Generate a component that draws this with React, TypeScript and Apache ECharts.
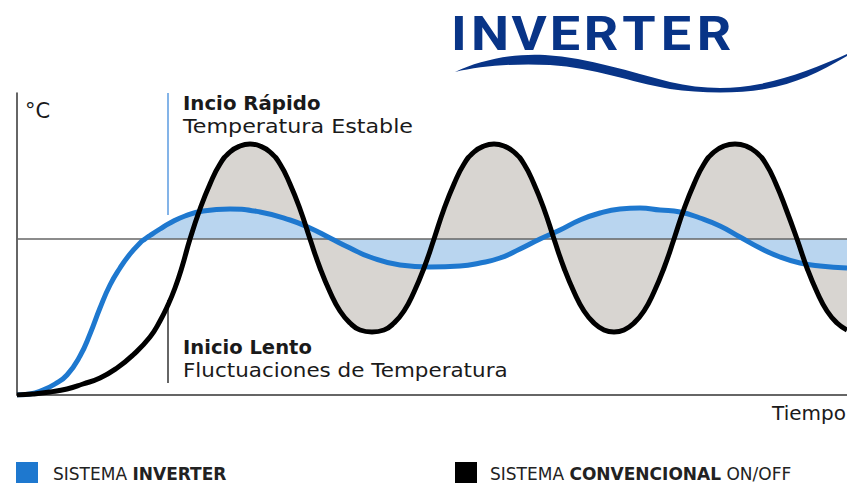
import React, { useEffect, useRef } from 'react';
import * as echarts from 'echarts';

// Tiempo (unidades arbitrarias) y temperatura (unidades arbitrarias)
const tiempoConvencional = [0, 16, 33, 50, 66, 83, 100, 116, 133, 143, 151, 158, 165, 173, 183, 193, 203, 213, 223, 233, 243, 253, 263, 273, 283, 293, 303, 313, 323, 333, 343, 355, 367, 377, 387, 397, 407, 417, 427, 437, 447, 457, 467, 477, 487, 497, 507, 517, 527, 537, 547, 557, 567, 577, 587, 597, 607, 617, 627, 637, 647, 657, 667, 677, 687, 697, 707, 718, 729, 739, 749, 759, 769, 780, 790, 800, 810, 820, 830];
const tempConvencional = [0, 1, 3, 6, 11, 17, 27, 40, 58, 74, 90, 107, 128, 156, 186, 211, 231, 243, 249, 251, 249, 243, 231, 211, 186, 156, 127, 103, 84, 72, 65, 63, 65, 72, 84, 103, 127, 156, 186, 211, 231, 243, 249, 251, 249, 243, 231, 211, 186, 156, 127, 103, 84, 72, 65, 63, 65, 72, 84, 103, 127, 156, 186, 211, 231, 243, 249, 251, 249, 243, 231, 211, 186, 156, 127, 103, 84, 72, 65];

const tiempoInverter = [0, 13, 26, 38, 50, 63, 73, 83, 93, 103, 113, 123, 128, 133, 143, 153, 168, 186, 213, 243, 273, 293, 313, 333, 353, 383, 413, 443, 463, 483, 503, 523, 543, 563, 583, 603, 623, 643, 663, 683, 703, 723, 743, 763, 783, 803, 830];
const tempInverter = [0, 1, 5, 11, 20, 39, 61, 87, 110, 127, 141, 152, 156, 159.5, 166, 172, 179, 184, 186, 183, 175, 167, 157, 147, 138, 130, 128, 129, 132, 137, 146, 156, 165, 175, 182, 186, 187, 185, 183, 177, 169, 158, 147, 138, 132, 129, 127];

const temperaturaConsigna = 156;
const tiempoMax = 830;
const tempMax = 302;

// Marcas de anotación (tiempo de inicio, extremos de las líneas guía)
const tiempoMarca = 151;
const guiaRapidoDesde = 302;
const guiaRapidoHasta = 180;
const guiaLentoDesde = 95;
const guiaLentoHasta = 12;

const logoLetras = ['I', 'N', 'V', 'E', 'R', 'T', 'E', 'R'];
const logoCentros = [459, 490, 529, 565, 601, 639, 676, 714];

const textoRapido = ['Incio Rápido', 'Temperatura Estable'];
const textoLento = ['Inicio Lento', 'Fluctuaciones de Temperatura'];
const unidadY = '°C';
const unidadX = 'Tiempo';
const leyenda = [
  { normal: 'SISTEMA ', negrita: 'INVERTER', resto: '' },
  { normal: 'SISTEMA ', negrita: 'CONVENCIONAL', resto: ' ON/OFF' },
];

const AZUL = '#1e78cf';
const AZUL_CLARO = '#b9d5ef';
const GRIS = '#d8d5d1';
const LOGO = '#083487';
const FONT = 'DejaVu Sans';

const olaPath =
  'M455,72 C480,60 515,53 545,55 C590,58 630,72 670,82 C700,89 730,90 760,84 C790,78 820,66 847,54 L847,56 C820,72 795,84 765,89 C735,94 700,93 670,89 C630,82 595,68 550,65 C515,63 480,66 455,72 Z';
echarts.graphic.registerShape('logoOla', echarts.graphic.extendPath(olaPath, {}));

const pares = (xs: number[], ys: number[]) => xs.map((x, i) => [x, ys[i]]);

export default function App() {
  const ref = useRef<HTMLDivElement>(null);
  useEffect(() => {
    document.body.style.margin = '0';
    const chart = echarts.init(ref.current!, null, { renderer: 'svg' });
    const conv = pares(tiempoConvencional, tempConvencional);
    const inv = pares(tiempoInverter, tempInverter);
    const iConv = tempConvencional.findIndex((v) => v >= temperaturaConsigna);
    const iInv = tempInverter.findIndex((v) => v >= temperaturaConsigna);

    const textos: any[] = [];
    logoLetras.forEach((l, i) => {
      textos.push({
        type: 'text', x: logoCentros[i], y: 33, scaleX: 1.1, silent: true,
        style: { text: l, fill: LOGO, font: 'bold 49px Roboto', textAlign: 'center', textVerticalAlign: 'middle' },
      });
    });
    textos.push({ type: 'logoOla', x: 0, y: 0, silent: true, style: { fill: LOGO } });
    const txt = (t: string, x: number, y: number, size: number, bold = false, sx = 1, align = 'left') => ({
      type: 'text', x, y, scaleX: sx, silent: true,
      style: { text: t, fill: '#1a1a1a', font: `${bold ? 'bold ' : ''}${size}px "${FONT}"`, textAlign: align, textVerticalAlign: 'middle' },
    });
    textos.push(txt(unidadY, 25, 111, 21));
    textos.push(txt(textoRapido[0], 183, 104, 19, true, 1.04));
    textos.push(txt(textoRapido[1], 183, 126.2, 19, false, 1.17));
    textos.push(txt(textoLento[0], 183, 348, 19, true, 1.03));
    textos.push(txt(textoLento[1], 183, 370.5, 19, false, 1.13));
    textos.push(txt(unidadX, 846, 413, 20, false, 1, 'right'));

    const legX = [16, 455];
    const legTxtX = [53, 490];
    const legCol = [AZUL, '#000'];
    leyenda.forEach((l, i) => {
      textos.push({ type: 'rect', silent: true, shape: { x: legX[i], y: 462, width: 22, height: 21 }, style: { fill: legCol[i] } });
      textos.push({
        type: 'text', x: legTxtX[i], y: 473.5, silent: true,
        style: {
          text: `{n|${l.normal}}{b|${l.negrita}}{n|${l.resto}}`,
          textVerticalAlign: 'middle',
          rich: {
            n: { fontFamily: FONT, fontSize: 17, fill: '#222' },
            b: { fontFamily: FONT, fontSize: 17, fontWeight: 'bold', fill: '#222' },
          },
        },
      });
    });

    chart.setOption({
      animation: false,
      grid: { left: 17, right: 0, top: 93, bottom: 89 },
      xAxis: {
        type: 'value', min: 0, max: tiempoMax,
        axisLine: { show: true, onZero: false, lineStyle: { color: '#333', width: 1.5 } },
        axisTick: { show: false }, axisLabel: { show: false }, splitLine: { show: false },
      },
      yAxis: {
        type: 'value', min: 0, max: tempMax,
        axisLine: { show: true, onZero: false, lineStyle: { color: '#333', width: 1.5 } },
        axisTick: { show: false }, axisLabel: { show: false }, splitLine: { show: false },
      },
      graphic: textos,
      series: [
        {
          name: 'relleno convencional', type: 'line', z: 1, silent: true,
          data: conv.slice(iConv), smooth: true, showSymbol: false,
          lineStyle: { width: 0, opacity: 0 },
          areaStyle: { color: GRIS, opacity: 1, origin: temperaturaConsigna },
          markLine: {
            silent: true, symbol: 'none', z: 3, label: { show: false },
            data: [
              { yAxis: temperaturaConsigna, lineStyle: { color: '#666', width: 1.5, type: 'solid' } },
              [
                { coord: [tiempoMarca, guiaRapidoDesde], lineStyle: { color: '#5b9be0', width: 1.5, type: 'solid' } },
                { coord: [tiempoMarca, guiaRapidoHasta] },
              ],
              [
                { coord: [tiempoMarca, guiaLentoDesde], lineStyle: { color: '#333', width: 1.5, type: 'solid' } },
                { coord: [tiempoMarca, guiaLentoHasta] },
              ],
            ],
          },
        },
        {
          name: 'relleno inverter', type: 'line', z: 2, silent: true,
          data: inv.slice(iInv), smooth: true, showSymbol: false,
          lineStyle: { width: 0, opacity: 0 },
          areaStyle: { color: AZUL_CLARO, opacity: 1, origin: temperaturaConsigna },
        },
        {
          name: 'SISTEMA INVERTER', type: 'line', z: 4, silent: true,
          data: inv, smooth: true, showSymbol: false,
          lineStyle: { color: AZUL, width: 5 },
        },
        {
          name: 'SISTEMA CONVENCIONAL ON/OFF', type: 'line', z: 5, silent: true,
          data: conv, smooth: true, showSymbol: false,
          lineStyle: { color: '#000', width: 5 },
        },
      ],
    });
    return () => chart.dispose();
  }, []);
  return <div ref={ref} style={{ width: 847, height: 484 }} />;
}
